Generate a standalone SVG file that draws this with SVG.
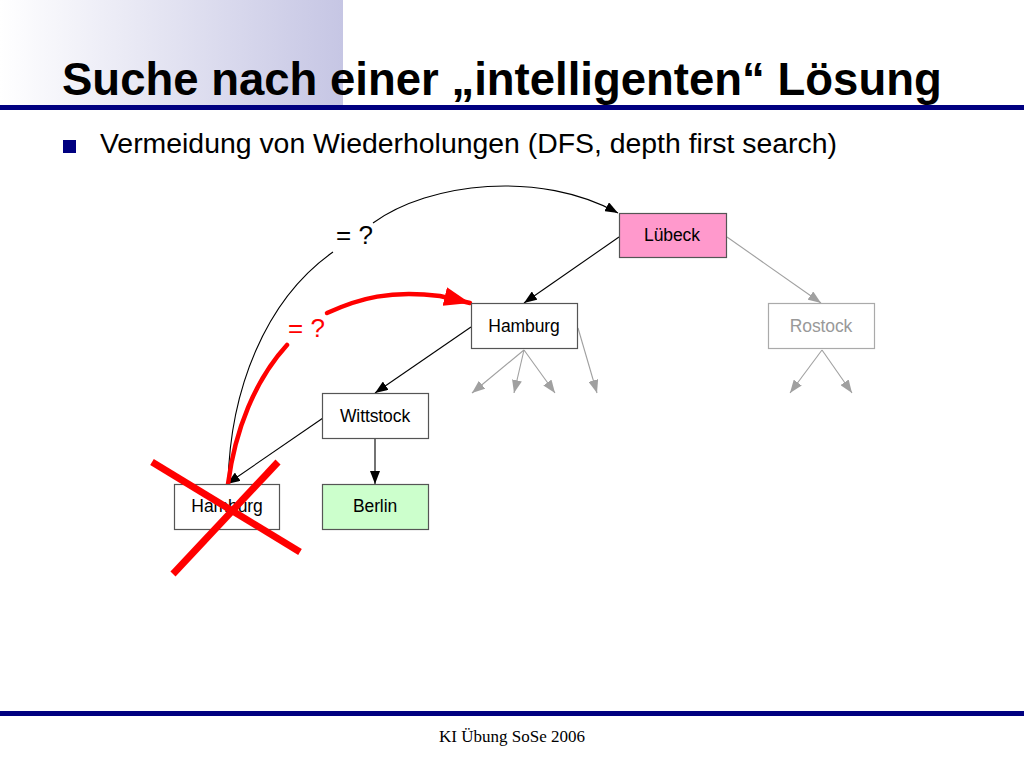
<svg xmlns="http://www.w3.org/2000/svg" width="1024" height="768" viewBox="0 0 1024 768">
<defs>
<linearGradient id="hdr" x1="0" y1="0" x2="1" y2="0">
<stop offset="0" stop-color="#ffffff"/>
<stop offset="1" stop-color="#c6c6e4"/>
</linearGradient>
<marker id="ab" markerUnits="userSpaceOnUse" markerWidth="14" markerHeight="10" refX="13" refY="5" orient="auto">
<path d="M0,0 L13,5 L0,10 z" fill="#000"/>
</marker>
<marker id="ag" markerUnits="userSpaceOnUse" markerWidth="14" markerHeight="10" refX="13" refY="5" orient="auto">
<path d="M0,0 L13,5 L0,10 z" fill="#a0a0a0"/>
</marker>
<marker id="ar" markerUnits="userSpaceOnUse" markerWidth="27" markerHeight="20" refX="26" refY="10" orient="auto">
<path d="M0,0 L26,10 L0,19 z" fill="#ff0000"/>
</marker>
</defs>
<style>
.box{fill:#fff;stroke:#555;stroke-width:1.2}
.lbl{font-family:"Liberation Sans",Arial,sans-serif;font-size:17.5px;text-anchor:middle;fill:#000;letter-spacing:-0.1px}
.e{fill:none;stroke:#000;stroke-width:1.1}
.g{fill:none;stroke:#a0a0a0;stroke-width:1.1}
.r{fill:none;stroke:#ff0000;stroke-width:4.5;stroke-linecap:round}
</style>
<rect width="1024" height="768" fill="#fff"/>
<rect x="0" y="0" width="343" height="106" fill="url(#hdr)"/>
<rect x="0" y="105" width="1024" height="5" fill="#000080"/>
<text x="62" y="95" font-family="Liberation Sans,Arial,sans-serif" font-weight="bold" font-size="45.5" fill="#000">Suche nach einer „intelligenten“ Lösung</text>
<rect x="63" y="140" width="13" height="13" fill="#000080"/>
<text x="100" y="153" font-family="Liberation Sans,Arial,sans-serif" font-size="28.4" fill="#000">Vermeidung von Wiederholungen (DFS, depth first search)</text>
<g id="connectors">
<line class="e" x1="619" y1="237" x2="524" y2="303" marker-end="url(#ab)"/>
<line class="g" x1="727" y1="237" x2="821" y2="303" marker-end="url(#ag)"/>
<line class="e" x1="471" y1="327" x2="375" y2="393" marker-end="url(#ab)"/>
<line class="g" x1="524" y1="350" x2="472" y2="393" marker-end="url(#ag)"/>
<line class="g" x1="524" y1="350" x2="514" y2="393" marker-end="url(#ag)"/>
<line class="g" x1="524" y1="350" x2="555" y2="393" marker-end="url(#ag)"/>
<line class="g" x1="578" y1="328" x2="597" y2="393" marker-end="url(#ag)"/>
<line class="g" x1="822" y1="350" x2="790" y2="393" marker-end="url(#ag)"/>
<line class="g" x1="822" y1="350" x2="852" y2="393" marker-end="url(#ag)"/>
<line class="e" x1="323" y1="418" x2="227" y2="484" marker-end="url(#ab)"/>
<line class="e" x1="375" y1="439" x2="375" y2="484" marker-end="url(#ab)"/>
<path class="e" d="M228,484 C230,390 265,300 333,252"/>
<path class="e" d="M373,223 C430,182 540,170 618,213" marker-end="url(#ab)"/>
<path class="r" d="M228,484 C235,430 255,380 287,345"/>
<path class="r" d="M327,313 C360,298 390,290 440,296 L470,303" marker-end="url(#ar)"/>
</g>
<text x="336" y="244" font-family="Liberation Sans,Arial,sans-serif" font-size="26" fill="#000">= ?</text>
<text x="288" y="337" font-family="Liberation Sans,Arial,sans-serif" font-size="26" fill="#ff0000">= ?</text>
<g id="luebeck"><rect class="box" x="619.5" y="213.5" width="107" height="44" style="fill:#ff99cc"/><text class="lbl" x="672" y="241">Lübeck</text></g>
<g id="hamburg"><rect class="box" x="471.5" y="303.5" width="106" height="45"/><text class="lbl" x="524" y="332">Hamburg</text></g>
<g id="rostock"><rect class="box" x="768.5" y="303.5" width="106" height="45" style="stroke:#aaa"/><text class="lbl" x="821" y="332" style="fill:#999">Rostock</text></g>
<g id="wittstock"><rect class="box" x="322.5" y="393.5" width="106" height="45"/><text class="lbl" x="375" y="422">Wittstock</text></g>
<g id="hamburg2"><rect class="box" x="174.5" y="484.5" width="105" height="45"/><text class="lbl" x="227" y="512">Hamburg</text></g>
<g id="berlin"><rect class="box" x="322.5" y="484.5" width="106" height="45" style="fill:#ccffcc"/><text class="lbl" x="375" y="512">Berlin</text></g>
<g id="cross">
<line x1="152" y1="462" x2="300" y2="552" stroke="#ff0000" stroke-width="7"/>
<line x1="173" y1="574" x2="278" y2="462" stroke="#ff0000" stroke-width="7"/>
</g>
<rect x="0" y="711" width="1024" height="5" fill="#000080"/>
<text x="512" y="742" font-family="Liberation Serif,Times New Roman,serif" font-size="17" text-anchor="middle" fill="#000">KI Übung SoSe 2006</text>
</svg>
